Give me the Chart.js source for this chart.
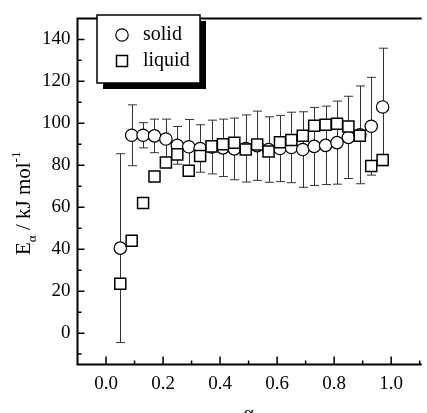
<!DOCTYPE html>
<html>
<head>
<meta charset="utf-8">
<script src="https://cdn.jsdelivr.net/npm/chart.js@4.4.0/dist/chart.umd.min.js"></script>
<style>
html, body { margin: 0; padding: 0; background: #fff; overflow: hidden; }
#wrap { width: 429px; height: 425px; }
</style>
</head>
<body>
<div id="wrap"><canvas id="c" width="429" height="425"></canvas></div>
<script>
// conversion degree (alpha)
const alpha = [0.05, 0.09, 0.13, 0.17, 0.21, 0.25, 0.29, 0.33, 0.37, 0.41, 0.45, 0.49,
               0.53, 0.57, 0.61, 0.65, 0.69, 0.73, 0.77, 0.81, 0.85, 0.89, 0.93, 0.97];

// E_alpha, kJ/mol
const solidE = [40.5, 94.3, 94.3, 94, 92.5, 89.5, 88.8, 88, 88.7, 88.3, 87.8, 88,
                89.3, 87.5, 88, 88.5, 87.5, 89, 89.5, 90.8, 93.3, 94.5, 98.6, 107.8];
const solidErr = [45, 14.5, 6, 8, 9.5, 9, 13, 11.3, 12.8, 13.7, 14.7, 16,
                  16.5, 15.6, 15.8, 16.8, 18, 18.6, 18.7, 19.8, 19.6, 23.3, 23.3, 28];
const liquidE = [23.5, 44, 62, 74.7, 81.3, 85.2, 77.4, 84.4, 89, 90, 90.7, 87.5,
                 89.9, 86.6, 91, 92, 94.1, 98.8, 99.3, 99.8, 98.5, 94.1, 79.7, 82.5];

// ticks
const xTicks = [0.0, 0.2, 0.4, 0.6, 0.8, 1.0];
const yTicks = [0, 20, 40, 60, 80, 100, 120, 140];
const legendLabels = ['solid', 'liquid'];

const SERIF = '"Liberation Serif", "DejaVu Serif", serif';

const pts = (ys) => alpha.map((a, i) => ({ x: a, y: ys[i] }));

// error bars, inward ticks, frame, legend and axis titles
const decor = {
  id: 'decor',
  beforeDatasetsDraw(chart) {
    const { ctx, scales: { x, y } } = chart;
    ctx.save();
    ctx.strokeStyle = '#333';
    ctx.lineWidth = 1;
    alpha.forEach((a, i) => {
      const px = Math.round(x.getPixelForValue(a)) + 0.5;
      const top = y.getPixelForValue(solidE[i] + solidErr[i]);
      const bot = y.getPixelForValue(solidE[i] - solidErr[i]);
      ctx.beginPath();
      ctx.moveTo(px, top); ctx.lineTo(px, bot);
      ctx.moveTo(px - 4.5, top); ctx.lineTo(px + 4.5, top);
      ctx.moveTo(px - 4.5, bot); ctx.lineTo(px + 4.5, bot);
      ctx.stroke();
    });
    ctx.restore();
  },
  afterDraw(chart) {
    const { ctx, chartArea: a, scales: { x, y } } = chart;
    ctx.save();
    ctx.strokeStyle = '#000';
    ctx.lineWidth = 2;
    ctx.beginPath();
    ctx.moveTo(a.right + 2, a.top); ctx.lineTo(a.left, a.top);
    ctx.lineTo(a.left, a.bottom); ctx.lineTo(a.right + 2, a.bottom);
    ctx.stroke();

    // inward ticks
    ctx.lineWidth = 1.5;
    ctx.beginPath();
    yTicks.forEach(v => {
      const py = y.getPixelForValue(v);
      ctx.moveTo(a.left, py); ctx.lineTo(a.left + 7, py);
      const pm = y.getPixelForValue(v - 10);
      ctx.moveTo(a.left, pm); ctx.lineTo(a.left + 4, pm);
    });
    const pm = y.getPixelForValue(130);
    ctx.moveTo(a.left, pm); ctx.lineTo(a.left + 4, pm);
    xTicks.forEach(v => {
      const px = x.getPixelForValue(v);
      ctx.moveTo(px, a.bottom); ctx.lineTo(px, a.bottom - 8);
      const pn = x.getPixelForValue(v + 0.1);
      ctx.moveTo(pn, a.bottom); ctx.lineTo(pn, a.bottom - 4);
    });
    ctx.stroke();

    // legend box with shadow
    const lx = 97, ly = 15, lw = 103, lh = 68;
    ctx.fillStyle = '#000';
    ctx.fillRect(lx + 6, ly + 6, lw, lh);
    ctx.fillStyle = '#fff';
    ctx.fillRect(lx, ly, lw, lh);
    ctx.lineWidth = 1.5;
    ctx.strokeRect(lx, ly, lw, lh);

    ctx.lineWidth = 1.2;
    ctx.beginPath();
    ctx.arc(122, 35, 6.2, 0, Math.PI * 2);
    ctx.stroke();
    ctx.lineWidth = 1.5;
    ctx.strokeRect(116.5, 55.5, 11, 11);

    ctx.fillStyle = '#000';
    ctx.font = '20px ' + SERIF;
    ctx.textBaseline = 'middle';
    ctx.textAlign = 'left';
    ctx.fillText(legendLabels[0], 143, 35);
    ctx.fillText(legendLabels[1], 143, 61);

    // x title
    ctx.textAlign = 'center';
    ctx.fillText('α', (a.left + a.right) / 2, 415);

    // y title, rotated, with sub/superscript
    ctx.translate(30, 255);
    ctx.rotate(-Math.PI / 2);
    ctx.textAlign = 'left';
    ctx.textBaseline = 'alphabetic';
    let cx = 0;
    const part = (t, size, dy) => {
      ctx.font = size + 'px ' + SERIF;
      ctx.fillText(t, cx, dy);
      cx += ctx.measureText(t).width;
    };
    part('E', 21, 0);
    part('α', 13, 6);
    part(' / kJ mol', 21, 0);
    part('-1', 13, -10);
    ctx.restore();
  }
};

new Chart(document.getElementById('c'), {
  type: 'scatter',
  data: {
    datasets: [
      {
        label: legendLabels[0],
        data: pts(solidE),
        order: 1,
        pointStyle: 'circle',
        pointRadius: 6.2,
        borderColor: '#000',
        borderWidth: 1.2,
        backgroundColor: '#fff'
      },
      {
        label: legendLabels[1],
        data: pts(liquidE),
        order: 0,
        pointStyle: 'rect',
        pointRadius: 7.8,
        borderColor: '#000',
        borderWidth: 1.5,
        backgroundColor: '#fff'
      }
    ]
  },
  options: {
    responsive: false,
    animation: false,
    devicePixelRatio: 1,
    layout: { padding: { top: 14, right: 0, left: 0, bottom: 0 } },
    plugins: { legend: { display: false }, tooltip: { enabled: false } },
    scales: {
      x: {
        type: 'linear',
        min: -0.1, max: 1.1,
        afterBuildTicks: s => { s.ticks = xTicks.map(v => ({ value: v })); },
        afterFit: s => { s.height = 60.4; },
        grid: { display: false, drawTicks: false },
        border: { display: false },
        ticks: {
          padding: 8,
          color: '#000',
          font: { family: SERIF, size: 19 },
          callback: v => v.toFixed(1)
        }
      },
      y: {
        min: -15, max: 150,
        afterBuildTicks: s => { s.ticks = yTicks.map(v => ({ value: v })); },
        afterFit: s => { s.width = 77.5; },
        grid: { display: false, drawTicks: false },
        border: { display: false },
        ticks: {
          padding: 7,
          color: '#000',
          font: { family: SERIF, size: 19 }
        }
      }
    }
  },
  plugins: [decor]
});
</script>
</body>
</html>
